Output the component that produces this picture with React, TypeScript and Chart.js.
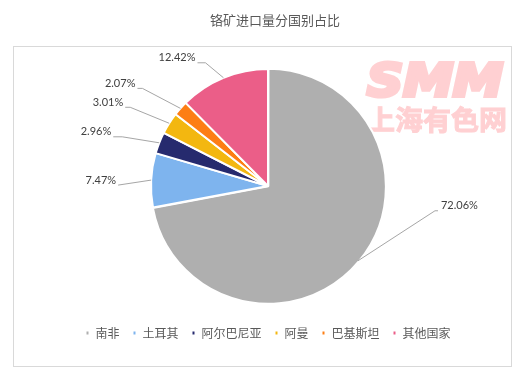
import React, { useEffect, useRef } from "react";
import { Chart, registerables } from "chart.js";

Chart.register(...registerables);

const TITLE = "铬矿进口量分国别占比";
const categories = ["南非", "土耳其", "阿尔巴尼亚", "阿曼", "巴基斯坦", "其他国家"];
const shares = [72.06, 7.47, 2.96, 3.01, 2.07, 12.42];
const percentLabels = ["72.06%", "7.47%", "2.96%", "3.01%", "2.07%", "12.42%"];
const sliceColors = ["#AFAFAF", "#7EB4EE", "#262A6E", "#F3B710", "#FD7E14", "#EB5E88"];

// leader line style per slice: elbow offset from arc midpoint [dx, dy], horizontal run
const leaderStyle: number[][] = [
  [77, -50, 3],
  [-33, 5, 0],
  [-37, -6, 9],
  [-39, -16, 5],
  [-38, -20, 5],
  [-18, -15, 8],
];

const framePlugin = {
  id: "frame",
  beforeDraw(chart: any) {
    const ctx = chart.ctx as CanvasRenderingContext2D;
    ctx.save();
    ctx.fillStyle = "#ffffff";
    ctx.fillRect(0, 0, chart.width, chart.height);
    ctx.strokeStyle = "#D9D9D9";
    ctx.lineWidth = 1;
    ctx.strokeRect(13.5, 46.5, 498, 320);
    ctx.fillStyle = "#595959";
    ctx.font = '13px "Noto Sans CJK SC"';
    ctx.textAlign = "center";
    ctx.textBaseline = "middle";
    ctx.fillText(TITLE, 275, 20.5);
    ctx.restore();
  },
  beforeDatasetsDraw(chart: any) {
    const ctx = chart.ctx as CanvasRenderingContext2D;
    ctx.save();
    ctx.fillStyle = "#FFD0D2";
    ctx.strokeStyle = "#FFD0D2";
    ctx.lineJoin = "miter";
    ctx.font = 'italic bold 44px "DejaVu Sans"';
    ctx.textBaseline = "alphabetic";
    ctx.textAlign = "left";
    const w = ctx.measureText("SMM").width;
    ctx.translate(367, 96);
    ctx.scale(136 / w, 1);
    ctx.lineWidth = 4;
    ctx.fillText("SMM", 0, 0);
    ctx.strokeText("SMM", 0, 0);
    ctx.restore();
    ctx.save();
    ctx.fillStyle = "#FFD0D2";
    ctx.strokeStyle = "#FFD0D2";
    ctx.font = 'bold 27px "Noto Sans CJK SC"';
    ctx.textBaseline = "middle";
    ctx.textAlign = "left";
    const w2 = ctx.measureText("上海有色网").width;
    ctx.translate(367, 120);
    ctx.scale(140 / w2, 1);
    ctx.lineWidth = 1;
    ctx.fillText("上海有色网", 0, 0);
    ctx.strokeText("上海有色网", 0, 0);
    ctx.restore();
  },
  afterDatasetsDraw(chart: any) {
    const ctx = chart.ctx as CanvasRenderingContext2D;
    const meta = chart.getDatasetMeta(0);
    ctx.save();
    ctx.font = '11px "Lato"';
    ctx.fillStyle = "#404040";
    ctx.strokeStyle = "#A6A6A6";
    ctx.lineWidth = 1;
    ctx.textBaseline = "middle";
    meta.data.forEach((arc: any, i: number) => {
      const p = arc.getProps(["x", "y", "startAngle", "endAngle", "outerRadius"], true);
      const mid = (p.startAngle + p.endAngle) / 2;
      const ax = p.x + Math.cos(mid) * p.outerRadius;
      const ay = p.y + Math.sin(mid) * p.outerRadius;
      const [dx, dy, run] = leaderStyle[i];
      const ex = ax + dx;
      const ey = ay + dy;
      const right = dx > 0;
      const lx = right ? ex + run : ex - run;
      ctx.beginPath();
      ctx.moveTo(ax, ay);
      ctx.lineTo(ex, ey);
      ctx.lineTo(lx, ey);
      ctx.stroke();
      ctx.textAlign = right ? "left" : "right";
      ctx.fillText(percentLabels[i], right ? lx + 3 : lx - 2, ey - 5);
    });
    ctx.restore();
  },
};

export default function App() {
  const ref = useRef<HTMLCanvasElement | null>(null);
  useEffect(() => {
    if (!ref.current) return;
    const chart = new Chart(ref.current, {
      type: "pie",
      data: {
        labels: categories,
        datasets: [
          {
            data: shares,
            backgroundColor: sliceColors,
            borderColor: "#ffffff",
            borderWidth: 2,
            offset: [2, 0, 0, 0, 0, 0],
          },
        ],
      },
      options: {
        responsive: false,
        animation: false,
        radius: 117,
        layout: { padding: { left: 12, right: 0, top: 58, bottom: 26 } },
        events: [],
        plugins: {
          title: { display: false },
          tooltip: { enabled: false },
          legend: {
            position: "bottom",
            align: "center",
            labels: {
              boxWidth: 4,
              boxHeight: 5,
              padding: 13,
              color: "#595959",
              font: { size: 12, family: '"Noto Sans CJK SC"' },
            },
          },
        },
      } as any,
      plugins: [framePlugin],
    });
    return () => chart.destroy();
  }, []);
  return (
    <div style={{ position: "fixed", left: 0, top: 0, width: 524, height: 375 }}>
      <canvas ref={ref} width={524} height={375} style={{ width: 524, height: 375, display: "block" }} />
    </div>
  );
}
